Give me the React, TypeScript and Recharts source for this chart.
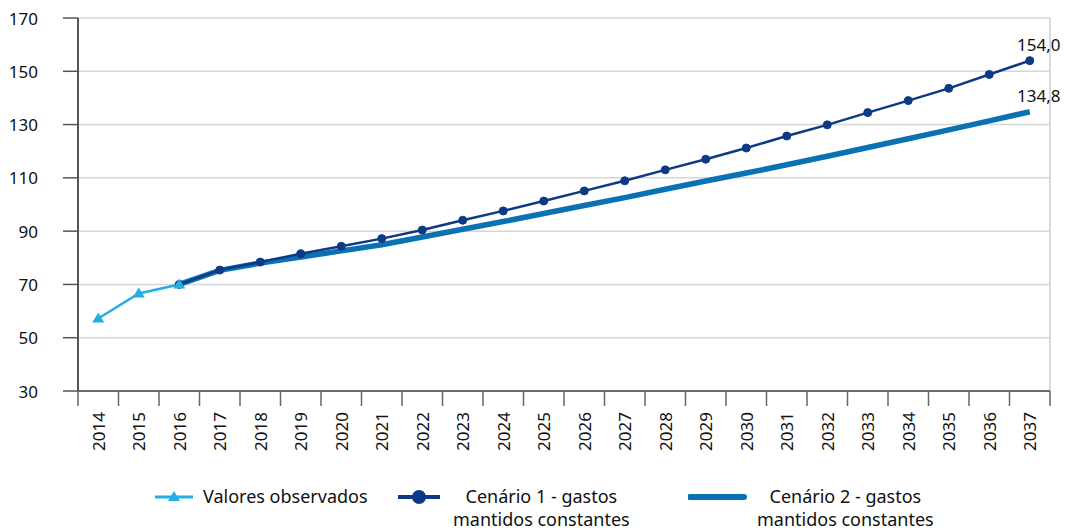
import React from "react";
import {
  LineChart,
  Line,
  XAxis,
  YAxis,
  CartesianGrid,
  ReferenceLine,
  Legend,
} from "recharts";

const years = [
  2014, 2015, 2016, 2017, 2018, 2019, 2020, 2021, 2022, 2023, 2024, 2025,
  2026, 2027, 2028, 2029, 2030, 2031, 2032, 2033, 2034, 2035, 2036, 2037,
];

// 2014-2016
const observados = [57.2, 66.6, 70.0];

// 2016-2037
const cenario1 = [
  70.0, 75.4, 78.4, 81.5, 84.3, 87.2, 90.4, 94.1, 97.6, 101.3, 105.1, 108.9,
  113.0, 117.0, 121.2, 125.7, 129.9, 134.5, 139.0, 143.6, 148.8, 154.0,
];
const cenario2 = [
  70.0, 75.3, 78.0, 80.3, 82.6, 84.9, 87.8, 90.7, 93.6, 96.6, 99.6, 102.6,
  105.7, 108.8, 111.8, 114.9, 118.1, 121.4, 124.7, 128.0, 131.4, 134.8,
];

const yTicks = [30, 50, 70, 90, 110, 130, 150, 170];

const seriesNames = {
  obs: "Valores observados",
  c1: "Cenário 1 - gastos mantidos constantes",
  c2: "Cenário 2 - gastos mantidos constantes",
};

const C_OBS = "#25aee2";
const C_1 = "#0e3a85";
const C_2 = "#0a72b3";
const FONT = "'Noto Sans', sans-serif";

const data = years.map((year, i) => ({
  year,
  obs: i < observados.length ? observados[i] : null,
  c1: i >= 2 ? cenario1[i - 2] : null,
  c2: i >= 2 ? cenario2[i - 2] : null,
}));

// boundary ticks between categories
const boundaryTicks = [...years.map((y) => y - 0.5), years[years.length - 1] + 0.5];

const W = 1067;
const H = 531;
const LEFT = 78;
const RIGHT = 17;
const halfBand = (W - LEFT - RIGHT) / years.length / 2;

const XTick = (props: any) => {
  const { x, y, payload } = props;
  const v = payload.value + 0.5;
  if (v > years[years.length - 1]) return null;
  return (
    <text
      x={x + halfBand}
      y={y}
      transform={`rotate(-90 ${x + halfBand} ${y})`}
      textAnchor="end"
      dominantBaseline="central"
      fontSize={17}
      fill="#111"
      fontFamily={FONT}
    >
      {v}
    </text>
  );
};

const YTick = (props: any) => {
  const { y, payload } = props;
  return (
    <text x={38} y={y} textAnchor="end" dominantBaseline="central" fontSize={17} fill="#111" fontFamily={FONT}>
      {payload.value}
    </text>
  );
};

const endLabel = (last: number) => (props: any) => {
  const { x, y, index, value } = props;
  if (index !== last || value == null) return null;
  return (
    <text x={x + 9} y={y - 10} textAnchor="middle" fontSize={17} fill="#111" fontFamily={FONT}>
      {Number(value).toFixed(1).replace(".", ",")}
    </text>
  );
};

const LegendContent = () => {
  const item = (left: number, marker: React.ReactNode, label: string, lines: string[], textLeft: number) => (
    <div key={label} style={{ position: "absolute", left, top: 6 }}>
      {marker}
      <div
        style={{
          position: "absolute",
          left: textLeft,
          top: -2,
          whiteSpace: "nowrap",
          textAlign: "center",
          lineHeight: "23px",
          fontSize: 18,
          fontFamily: FONT,
          color: "#111",
        }}
      >
        {lines.map((l) => (
          <div key={l}>{l}</div>
        ))}
      </div>
    </div>
  );
  return (
    <div style={{ position: "relative", width: W, height: 50 }}>
      {item(
        155,
        <svg width={40} height={20} style={{ position: "absolute", top: 0 }}>
          <line x1={0} y1={10} x2={38} y2={10} stroke={C_OBS} strokeWidth={3} />
          <polygon points="19,4 25,14 13,14" fill={C_OBS} />
        </svg>,
        "obs",
        [seriesNames.obs],
        48
      )}
      {item(
        398,
        <svg width={44} height={20} style={{ position: "absolute", top: 0 }}>
          <line x1={0} y1={10} x2={42} y2={10} stroke={C_1} strokeWidth={4} />
          <circle cx={21} cy={10} r={7} fill={C_1} />
        </svg>,
        "c1",
        ["Cenário 1 - gastos", "mantidos constantes"],
        55
      )}
      {item(
        688,
        <svg width={60} height={20} style={{ position: "absolute", top: 0 }}>
          <line x1={2} y1={10} x2={56} y2={10} stroke={C_2} strokeWidth={6} strokeLinecap="round" />
        </svg>,
        "c2",
        ["Cenário 2 - gastos", "mantidos constantes"],
        69
      )}
    </div>
  );
};

export default function App() {
  const last = years.length - 1;
  return (
    <div style={{ position: "absolute", left: 0, top: 0, width: W, height: H, background: "#fff" }}>
      <LineChart
        width={W}
        height={H}
        data={data}
        margin={{ top: 18, right: RIGHT, bottom: 0, left: 0 }}
      >
        <CartesianGrid horizontal vertical={false} stroke="#d6d6d6" strokeWidth={1.5} />
        <XAxis
          dataKey="year"
          type="number"
          domain={[years[0] - 0.5, years[last] + 0.5]}
          ticks={boundaryTicks}
          interval={0}
          tick={<XTick />}
          tickSize={15}
          tickMargin={6}
          height={90}
          axisLine={{ stroke: "#444", strokeWidth: 1.5 }}
          tickLine={{ stroke: "#666", strokeWidth: 1.5 }}
        />
        <YAxis
          domain={[30, 170]}
          ticks={yTicks}
          interval={0}
          width={LEFT}
          tick={<YTick />}
          tickSize={15}
          axisLine={{ stroke: "#555", strokeWidth: 2 }}
          tickLine={{ stroke: "#555", strokeWidth: 1.5 }}
        />
        <ReferenceLine x={years[last] + 0.5} stroke="#cfcfcf" strokeWidth={1.5} />
        <Legend verticalAlign="bottom" align="left" content={<LegendContent />} wrapperStyle={{ left: 0, bottom: 0 }} />
        <Line
          type="linear"
          dataKey="c2"
          name={seriesNames.c2}
          stroke={C_2}
          strokeWidth={5.5}
          dot={false}
          connectNulls={false}
          isAnimationActive={false}
          label={endLabel(last)}
        />
        <Line
          type="linear"
          dataKey="c1"
          name={seriesNames.c1}
          stroke={C_1}
          strokeWidth={2.5}
          dot={{ r: 4, fill: C_1, stroke: C_1, strokeWidth: 1 }}
          isAnimationActive={false}
          label={endLabel(last)}
        />
        <Line
          type="linear"
          dataKey="obs"
          name={seriesNames.obs}
          stroke={C_OBS}
          strokeWidth={2.5}
          dot={(p: any) =>
            p.value == null ? (
              <g key={p.index} />
            ) : (
              <polygon
                key={p.index}
                points={`${p.cx},${p.cy - 6} ${p.cx + 6},${p.cy + 4} ${p.cx - 6},${p.cy + 4}`}
                fill={C_OBS}
              />
            )
          }
          isAnimationActive={false}
        />
      </LineChart>
    </div>
  );
}
